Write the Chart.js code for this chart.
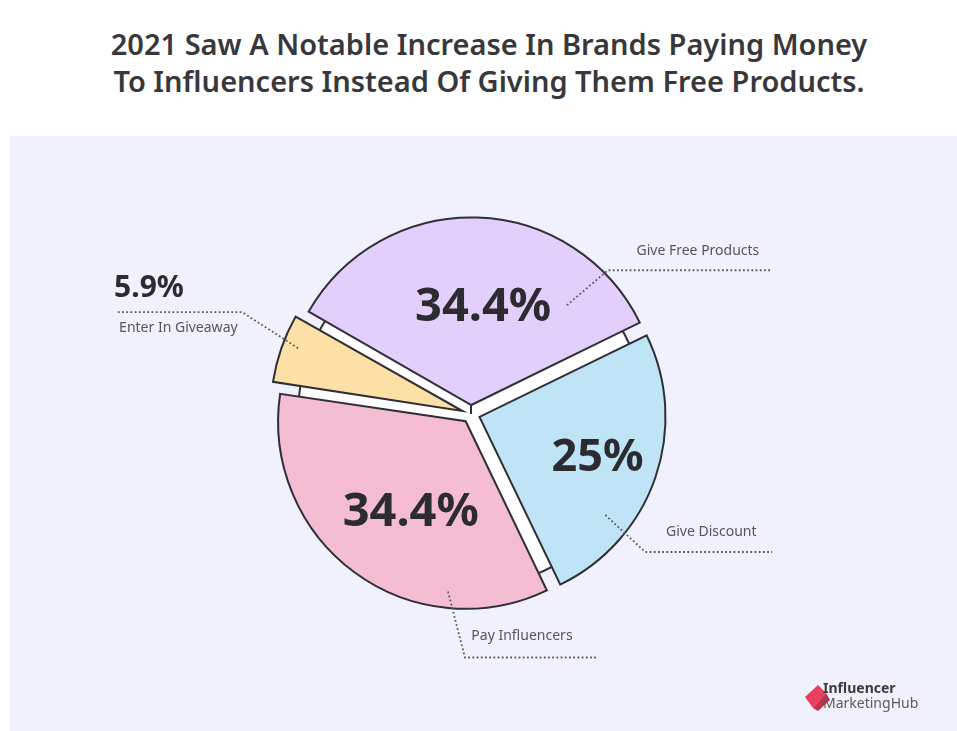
<!DOCTYPE html>
<html>
<head>
<meta charset="utf-8">
<script src="https://cdn.jsdelivr.net/npm/chart.js@4.4.0/dist/chart.umd.min.js"></script>
<style>
  html, body { margin: 0; padding: 0; background: #ffffff; }
  body { width: 957px; height: 731px; position: relative; overflow: hidden; font-family: "Noto Sans", sans-serif; }
  #title {
    position: absolute; left: 0; top: 25px; width: 978px; text-align: center;
    font-weight: 600; font-size: 29px; line-height: 37px; color: #38383c;
  }
  #panel { position: absolute; left: 10px; top: 136px; width: 947px; height: 595px; background: #f1f0fd; }
  .pie { position: absolute; left: 0px; top: 136px; width: 957px; height: 595px; }
  #logo { position: absolute; left: 804px; top: 680px; width: 150px; height: 36px; }
  #logo .t1 { position: absolute; left: 19px; top: 0px; font-size: 14px; font-weight: 700; color: #3a3a3f; line-height: 16px; }
  #logo .t2 { position: absolute; left: 19px; top: 15px; font-size: 14px; font-weight: 400; color: #5a5a60; line-height: 16px; }
</style>
</head>
<body>
<div id="title">2021 Saw A Notable Increase In Brands Paying Money<br>To Influencers Instead Of Giving Them Free Products.</div>
<div id="panel"></div>
<canvas id="base" class="pie" width="957" height="595"></canvas>
<canvas id="slices" class="pie" width="957" height="595"></canvas>
<div id="logo">
  <svg width="30" height="36" style="position:absolute;left:0;top:0">
    <polygon points="1,17 14,5 22,13 9,28" fill="#e8415f"/>
    <polygon points="9,28 22,13 26,20 14,31" fill="#c92c4c"/>
  </svg>
  <div class="t1">Influencer</div>
  <div class="t2">MarketingHub</div>
</div>
<script>
// Share of brands by how they compensate influencers (2021)
const categories = ['Give Free Products', 'Give Discount', 'Pay Influencers', 'Enter In Giveaway'];
const shares = [34.4, 25, 34.4, 5.9];
const valueLabels = ['34.4%', '25%', '34.4%', '5.9%'];

const sliceColors = ['#e3cffb', '#bee4f6', '#f4bdd2', '#fde0a6'];
const edgeColor = '#2f2f38';

// Placement of the text around each slice, relative to the slice's mid-angle
const labelLayout = [
  { vR: 0.575, vDA: 4.6, vSize: 47, sR: 145, sDA: 39.5, elbow: [41, -35], run: 163, text: [90, -19], align: 'center' },
  { vR: 0.72,  vDA: 0,   vSize: 45, sR: 168, sDA: 17.8, elbow: [40, 37],  run: 127, text: [66, -20], align: 'center' },
  { vR: 0.62,  vDA: -4.9, vSize: 47, sR: 179, sDA: -29, elbow: [17, 66],  run: 133, text: [57, -21], align: 'center' },
  { vOut: true, vSize: 30, sR: 185, sDA: 1.7, elbow: [-56, -36], run: -125, text: [-123, 16], value: [-128, -24], align: 'left' }
];

const deg = Math.PI / 180;

const leaderPlugin = {
  id: 'leaders',
  afterDatasetsDraw(chart) {
    const ctx = chart.ctx;
    const arcs = chart.getDatasetMeta(0).data;
    arcs.forEach((arc, i) => {
      const L = labelLayout[i];
      const mid = (arc.startAngle + arc.endAngle) / 2;
      const R = arc.outerRadius;
      // dotted leader line
      const a = mid + L.sDA * deg;
      const sx = arc.x + Math.cos(a) * L.sR;
      const sy = arc.y + Math.sin(a) * L.sR;
      const ex = sx + L.elbow[0];
      const ey = sy + L.elbow[1];
      ctx.save();
      ctx.strokeStyle = '#5a5a66';
      ctx.lineWidth = 1.8;
      ctx.setLineDash([1.8, 2.4]);
      ctx.beginPath();
      ctx.moveTo(sx, sy);
      ctx.lineTo(ex, ey);
      ctx.lineTo(ex + L.run, ey);
      ctx.stroke();
      ctx.restore();

      // category name
      ctx.save();
      ctx.fillStyle = '#55555c';
      ctx.font = '400 14px "Noto Sans"';
      ctx.textAlign = L.align;
      ctx.textBaseline = 'middle';
      ctx.fillText(categories[i], ex + L.text[0], ey + L.text[1]);
      ctx.restore();

      // value
      ctx.save();
      ctx.fillStyle = '#2b2b30';
      ctx.font = '700 ' + L.vSize + 'px "Noto Sans"';
      ctx.textBaseline = 'middle';
      if (L.vOut) {
        ctx.textAlign = 'left';
        ctx.fillText(valueLabels[i], ex + L.value[0], ey + L.value[1]);
      } else {
        ctx.textAlign = 'center';
        const va = mid + L.vDA * deg;
        ctx.fillText(valueLabels[i], arc.x + Math.cos(va) * L.vR * R, arc.y + Math.sin(va) * L.vR * R);
      }
      ctx.restore();
    });
  }
};

// chart area centred on the pie's middle point
const common = {
  responsive: false,
  animation: false,
  events: [],
  layout: { padding: { left: 0, right: 15, top: 0, bottom: 39 } },
  plugins: { legend: { display: false }, tooltip: { enabled: false } }
};

// white backing disc seen through the gaps between slices
new Chart(document.getElementById('base'), {
  type: 'pie',
  data: { labels: ['all'], datasets: [{ data: [shares.reduce((s, v) => s + v, 0)], backgroundColor: '#ffffff', borderColor: edgeColor, borderWidth: 2, radius: 173 }] },
  options: common
});

new Chart(document.getElementById('slices'), {
  type: 'pie',
  data: {
    labels: categories,
    datasets: [{
      data: shares,
      backgroundColor: sliceColors,
      borderColor: edgeColor,
      borderWidth: 2,
      borderJoinStyle: 'miter',
      offset: 36,
      radius: 186
    }]
  },
  options: Object.assign({}, common, { rotation: -60.2 }),
  plugins: [leaderPlugin]
});
</script>
</body>
</html>
